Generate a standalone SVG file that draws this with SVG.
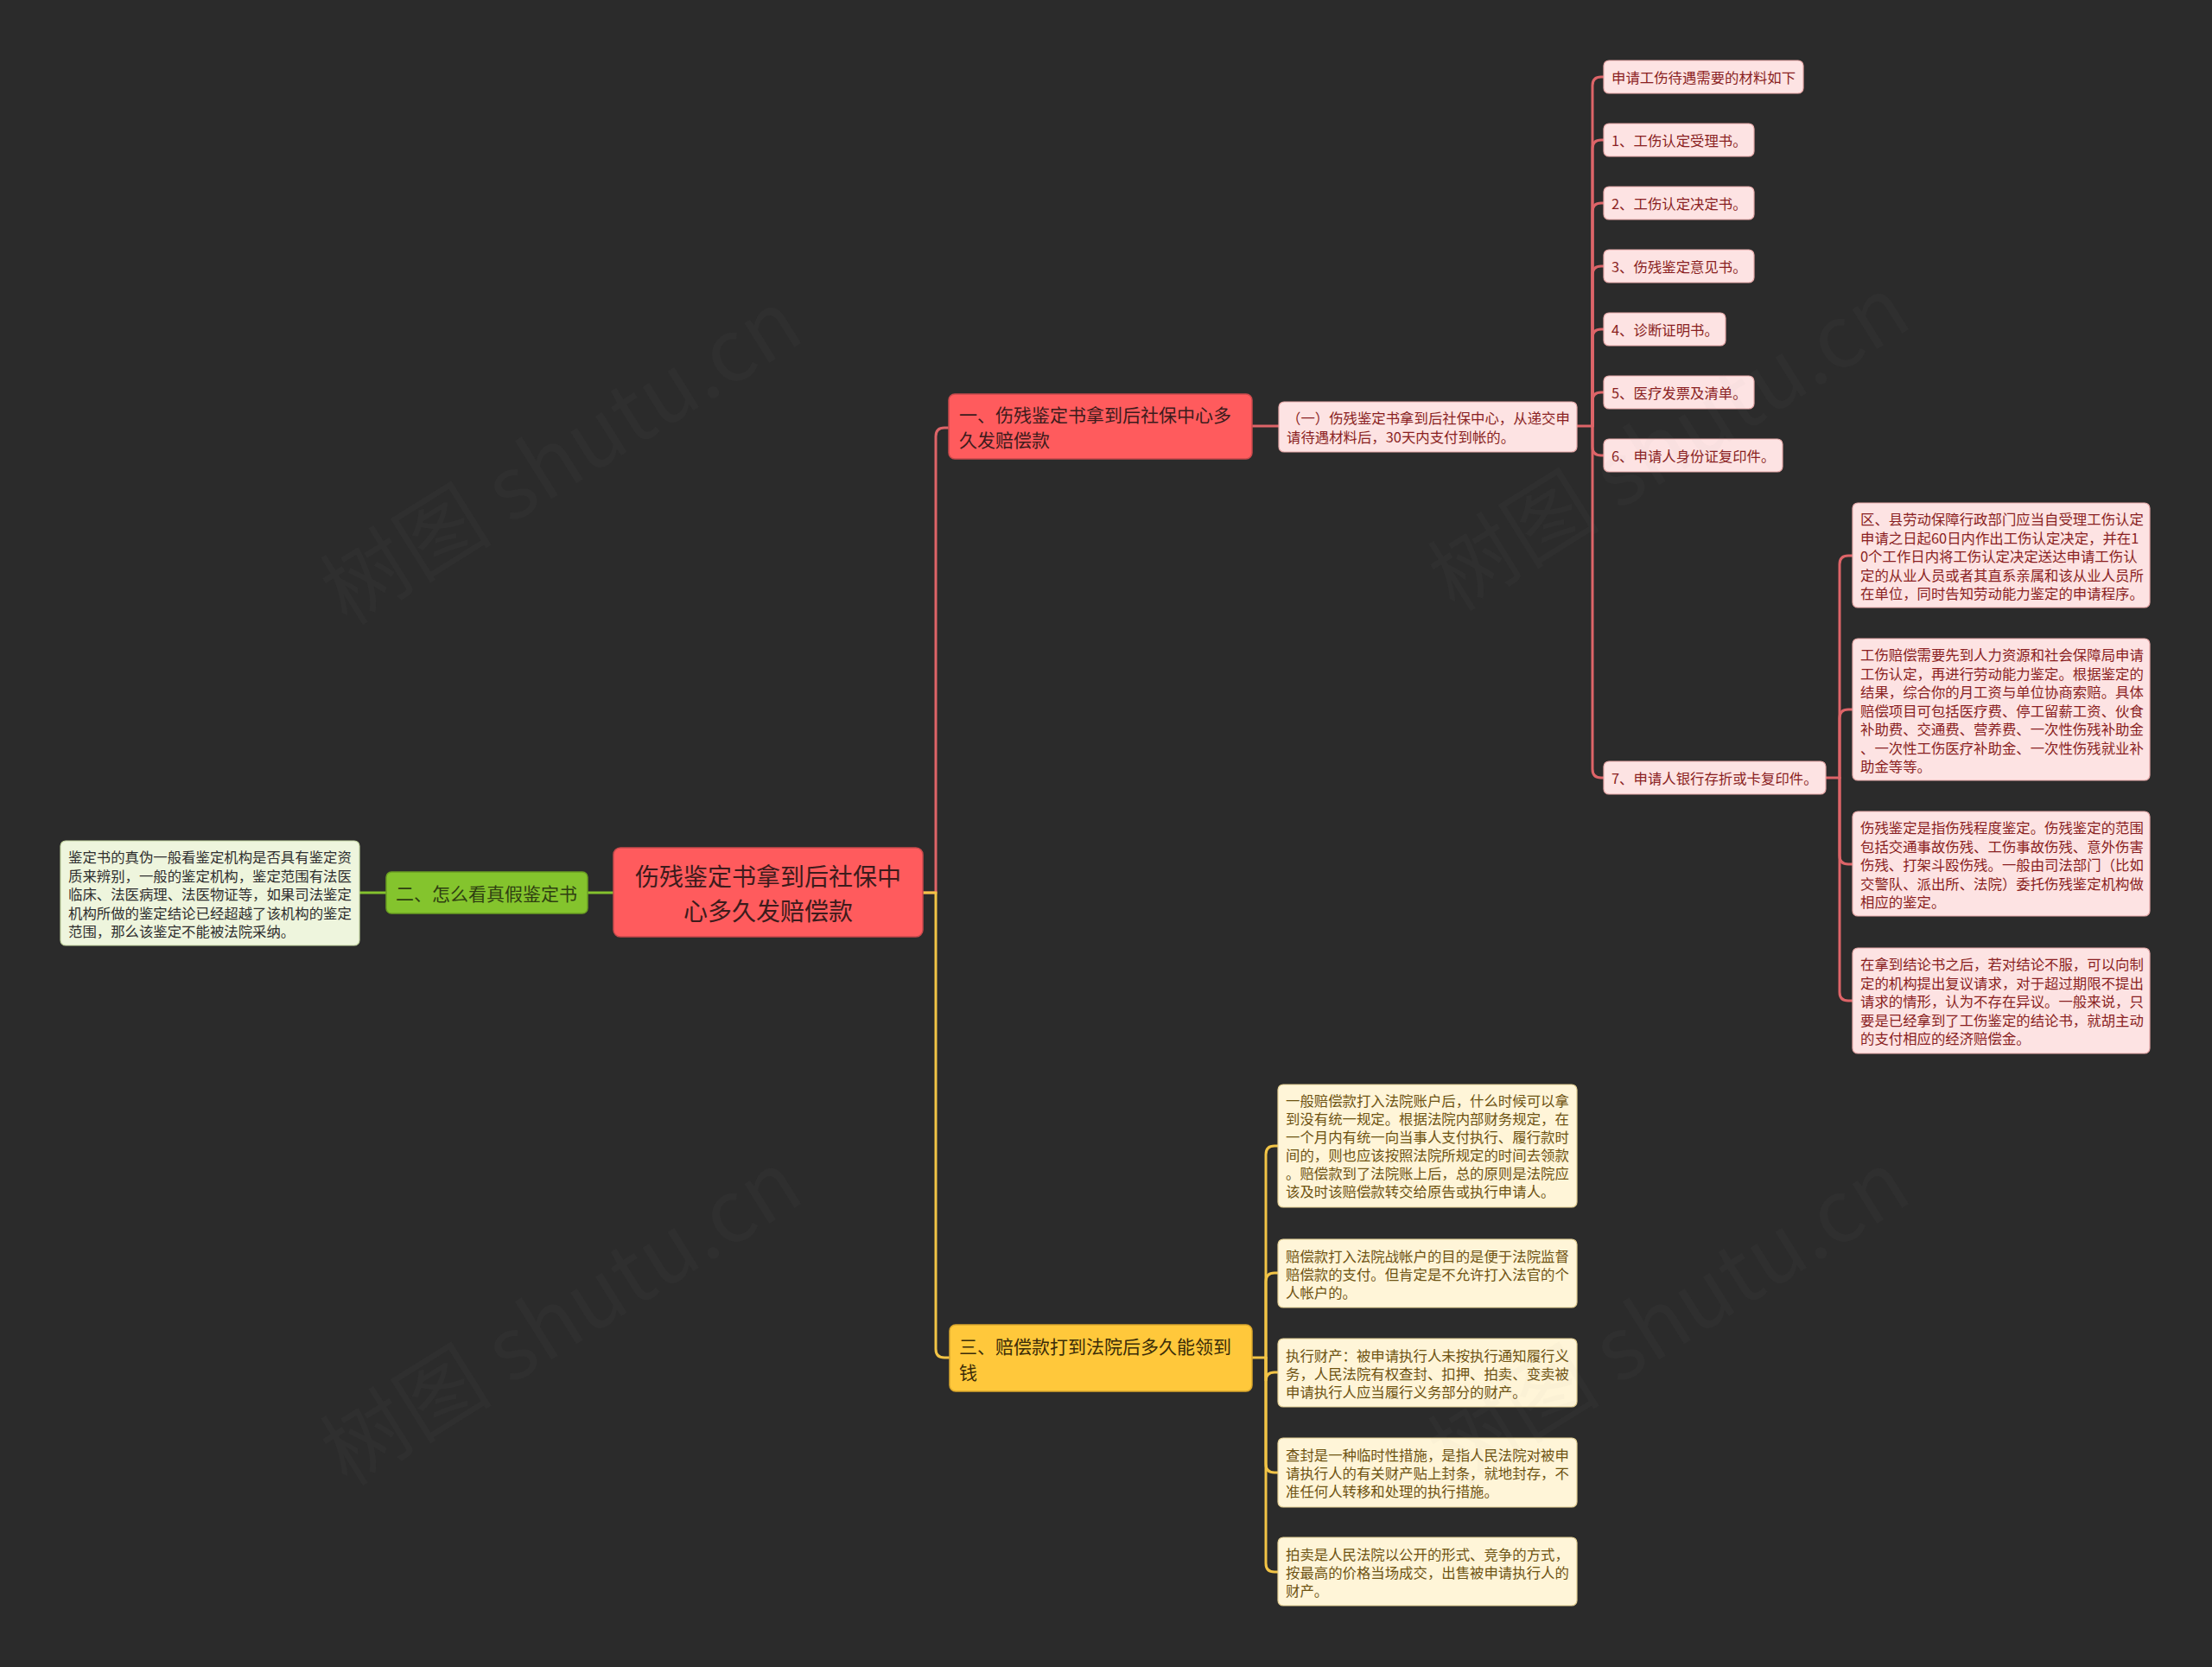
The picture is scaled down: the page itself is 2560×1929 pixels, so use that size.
<svg xmlns="http://www.w3.org/2000/svg" width="2560" height="1929" viewBox="0 0 2560 1929">
<style>
text{font-family:"Noto Sans CJK SC","Noto Sans",sans-serif;dominant-baseline:central}
.lr{fill:none;stroke:#dd6468;stroke-width:3;stroke-linecap:round}
.ly{fill:none;stroke:#f2c446;stroke-width:3;stroke-linecap:round}
.lg{fill:none;stroke:#84c22e;stroke-width:3}
.nred{fill:#ff5b5d;stroke:#c94a4c;stroke-width:1.5}
.nyel{fill:#ffc83b;stroke:#d9a62c;stroke-width:1.5}
.ngrn{fill:#84c42d;stroke:#6a9e22;stroke-width:1.5}
.lpink{fill:#fde3e3;stroke:#e7a9a9;stroke-width:1.2}
.lcream{fill:#fff5d8;stroke:#e3cf93;stroke-width:1.2}
.llime{fill:#eef5dd;stroke:#c5d6a3;stroke-width:1.2}
.tc{font-size:28px;fill:#3d1b1c;text-anchor:middle}
.tb{font-size:21px;fill:#3d1b1c}
.tby{font-size:21px;fill:#3a2c08}
.tbg{font-size:21px;fill:#2f3f11}
.tp{font-size:16.4px;fill:#8a1f22}
.ty{font-size:16.4px;fill:#6e5312}
.tg{font-size:16.4px;fill:#2f2f2f}
.wm{font-size:100px;fill:#9a9a9a;fill-opacity:0.04;text-anchor:middle;font-family:"Noto Sans CJK SC",sans-serif}
</style>
<rect x="0" y="0" width="2560" height="1929" fill="#2b2b2b"/>

<g id="connectors">
  <path class="lr" d="M1068 1033 H1083 V505 Q1083 495 1093 495 H1098"/>
  <path class="ly" d="M1068 1033 H1083 V1561 Q1083 1571 1093 1571 H1099"/>
  <path class="lg" d="M710 1033 H680"/>
  <path class="lg" d="M447 1033 H416"/>
  <path class="lr" d="M1449 493 H1480"/>
  <path class="lr" d="M1825 493 H1843"/>
  <path class="lr" d="M1843 493 V99 Q1843 89 1853 89 H1856"/>
  <path class="lr" d="M1843 493 V172 Q1843 162 1853 162 H1856"/>
  <path class="lr" d="M1843 493 V245 Q1843 235 1853 235 H1856"/>
  <path class="lr" d="M1843 493 V318 Q1843 308 1853 308 H1856"/>
  <path class="lr" d="M1843 493 V391 Q1843 381 1853 381 H1856"/>
  <path class="lr" d="M1843 493 V464 Q1843 454 1853 454 H1856"/>
  <path class="lr" d="M1843 493 V517 Q1843 527 1853 527 H1856"/>
  <path class="lr" d="M1843 493 V890 Q1843 900 1853 900 H1856"/>
  <path class="lr" d="M2113 900 H2129"/>
  <path class="lr" d="M2129 900 V653 Q2129 643 2139 643 H2144"/>
  <path class="lr" d="M2129 900 V831 Q2129 821 2139 821 H2144"/>
  <path class="lr" d="M2129 900 V990 Q2129 1000 2139 1000 H2144"/>
  <path class="lr" d="M2129 900 V1148 Q2129 1158 2139 1158 H2144"/>
  <path class="ly" d="M1449 1571 H1465"/>
  <path class="ly" d="M1465 1571 V1336 Q1465 1326 1475 1326 H1479"/>
  <path class="ly" d="M1465 1571 V1483 Q1465 1473 1475 1473 H1479"/>
  <path class="ly" d="M1465 1571 V1598 Q1465 1588 1475 1588 H1479"/>
  <path class="ly" d="M1465 1571 V1694 Q1465 1704 1475 1704 H1479"/>
  <path class="ly" d="M1465 1571 V1809 Q1465 1819 1475 1819 H1479"/>
</g>

<g id="root">
  <rect class="nred" x="710" y="981" width="358" height="103" rx="8"/>
  <text class="tc" x="889" y="1013">伤残鉴定书拿到后社保中</text>
  <text class="tc" x="889" y="1053">心多久发赔偿款</text>
</g>

<g id="branch1">
  <rect class="nred" x="1098" y="456" width="351" height="75" rx="7"/>
  <text class="tb" x="1110" y="479">一、伤残鉴定书拿到后社保中心多</text>
  <text class="tb" x="1110" y="508">久发赔偿款</text>
</g>

<g id="sub1">
  <rect class="lpink" x="1480" y="465" width="345" height="58" rx="6"/>
  <text class="tp" x="1489" y="483">（一）伤残鉴定书拿到后社保中心，从递交申</text>
  <text class="tp" x="1489" y="505">请待遇材料后，30天内支付到帐的。</text>
</g>

<g id="leaf0"><rect class="lpink" x="1856" y="70" width="231" height="38" rx="6"/><text class="tp" x="1865" y="89">申请工伤待遇需要的材料如下</text></g>
<g id="leaf1"><rect class="lpink" x="1856" y="143" width="174" height="38" rx="6"/><text class="tp" x="1865" y="162">1、工伤认定受理书。</text></g>
<g id="leaf2"><rect class="lpink" x="1856" y="216" width="174" height="38" rx="6"/><text class="tp" x="1865" y="235">2、工伤认定决定书。</text></g>
<g id="leaf3"><rect class="lpink" x="1856" y="289" width="174" height="38" rx="6"/><text class="tp" x="1865" y="308">3、伤残鉴定意见书。</text></g>
<g id="leaf4"><rect class="lpink" x="1856" y="362" width="141" height="38" rx="6"/><text class="tp" x="1865" y="381">4、诊断证明书。</text></g>
<g id="leaf5"><rect class="lpink" x="1856" y="435" width="174" height="38" rx="6"/><text class="tp" x="1865" y="454">5、医疗发票及清单。</text></g>
<g id="leaf6"><rect class="lpink" x="1856" y="508" width="207" height="38" rx="6"/><text class="tp" x="1865" y="527">6、申请人身份证复印件。</text></g>
<g id="leaf7"><rect class="lpink" x="1856" y="881" width="257" height="38" rx="6"/><text class="tp" x="1865" y="900">7、申请人银行存折或卡复印件。</text></g>

<g id="detail1">
  <rect class="lpink" x="2144" y="582" width="344" height="121" rx="6"/>
  <text class="tp" x="2153" y="600">区、县劳动保障行政部门应当自受理工伤认定</text>
  <text class="tp" x="2153" y="621.5">申请之日起60日内作出工伤认定决定，并在1</text>
  <text class="tp" x="2153" y="643">0个工作日内将工伤认定决定送达申请工伤认</text>
  <text class="tp" x="2153" y="664.5">定的从业人员或者其直系亲属和该从业人员所</text>
  <text class="tp" x="2153" y="686">在单位，同时告知劳动能力鉴定的申请程序。</text>
</g>
<g id="detail2">
  <rect class="lpink" x="2144" y="739" width="344" height="164" rx="6"/>
  <text class="tp" x="2153" y="757">工伤赔偿需要先到人力资源和社会保障局申请</text>
  <text class="tp" x="2153" y="778.5">工伤认定，再进行劳动能力鉴定。根据鉴定的</text>
  <text class="tp" x="2153" y="800">结果，综合你的月工资与单位协商索赔。具体</text>
  <text class="tp" x="2153" y="821.5">赔偿项目可包括医疗费、停工留薪工资、伙食</text>
  <text class="tp" x="2153" y="843">补助费、交通费、营养费、一次性伤残补助金</text>
  <text class="tp" x="2153" y="864.5">、一次性工伤医疗补助金、一次性伤残就业补</text>
  <text class="tp" x="2153" y="886">助金等等。</text>
</g>
<g id="detail3">
  <rect class="lpink" x="2144" y="939" width="344" height="121" rx="6"/>
  <text class="tp" x="2153" y="957">伤残鉴定是指伤残程度鉴定。伤残鉴定的范围</text>
  <text class="tp" x="2153" y="978.5">包括交通事故伤残、工伤事故伤残、意外伤害</text>
  <text class="tp" x="2153" y="1000">伤残、打架斗殴伤残。一般由司法部门（比如</text>
  <text class="tp" x="2153" y="1021.5">交警队、派出所、法院）委托伤残鉴定机构做</text>
  <text class="tp" x="2153" y="1043">相应的鉴定。</text>
</g>
<g id="detail4">
  <rect class="lpink" x="2144" y="1097" width="344" height="122" rx="6"/>
  <text class="tp" x="2153" y="1115">在拿到结论书之后，若对结论不服，可以向制</text>
  <text class="tp" x="2153" y="1136.5">定的机构提出复议请求，对于超过期限不提出</text>
  <text class="tp" x="2153" y="1158">请求的情形，认为不存在异议。一般来说，只</text>
  <text class="tp" x="2153" y="1179.5">要是已经拿到了工伤鉴定的结论书，就胡主动</text>
  <text class="tp" x="2153" y="1201">的支付相应的经济赔偿金。</text>
</g>

<g id="branch2">
  <rect class="ngrn" x="447" y="1009" width="233" height="48" rx="6"/>
  <text class="tbg" x="458" y="1033">二、怎么看真假鉴定书</text>
</g>
<g id="leafg">
  <rect class="llime" x="70" y="973" width="346" height="121" rx="6"/>
  <text class="tg" x="79" y="991">鉴定书的真伪一般看鉴定机构是否具有鉴定资</text>
  <text class="tg" x="79" y="1012.5">质来辨别，一般的鉴定机构，鉴定范围有法医</text>
  <text class="tg" x="79" y="1034">临床、法医病理、法医物证等，如果司法鉴定</text>
  <text class="tg" x="79" y="1055.5">机构所做的鉴定结论已经超越了该机构的鉴定</text>
  <text class="tg" x="79" y="1077">范围，那么该鉴定不能被法院采纳。</text>
</g>

<g id="branch3">
  <rect class="nyel" x="1099" y="1533" width="350" height="77" rx="7"/>
  <text class="tby" x="1110" y="1557">三、赔偿款打到法院后多久能领到</text>
  <text class="tby" x="1110" y="1587">钱</text>
</g>
<g id="y1">
  <rect class="lcream" x="1479" y="1255" width="346" height="142" rx="6"/>
  <text class="ty" x="1488" y="1273">一般赔偿款打入法院账户后，什么时候可以拿</text>
  <text class="ty" x="1488" y="1294">到没有统一规定。根据法院内部财务规定，在</text>
  <text class="ty" x="1488" y="1315">一个月内有统一向当事人支付执行、履行款时</text>
  <text class="ty" x="1488" y="1336">间的，则也应该按照法院所规定的时间去领款</text>
  <text class="ty" x="1488" y="1357">。赔偿款到了法院账上后，总的原则是法院应</text>
  <text class="ty" x="1488" y="1378">该及时该赔偿款转交给原告或执行申请人。</text>
</g>
<g id="y2">
  <rect class="lcream" x="1479" y="1434" width="346" height="79" rx="6"/>
  <text class="ty" x="1488" y="1452.5">赔偿款打入法院战帐户的目的是便于法院监督</text>
  <text class="ty" x="1488" y="1473.5">赔偿款的支付。但肯定是不允许打入法官的个</text>
  <text class="ty" x="1488" y="1494.5">人帐户的。</text>
</g>
<g id="y3">
  <rect class="lcream" x="1479" y="1549" width="346" height="79" rx="6"/>
  <text class="ty" x="1488" y="1567.5">执行财产：被申请执行人未按执行通知履行义</text>
  <text class="ty" x="1488" y="1588.5">务，人民法院有权查封、扣押、拍卖、变卖被</text>
  <text class="ty" x="1488" y="1609.5">申请执行人应当履行义务部分的财产。</text>
</g>
<g id="y4">
  <rect class="lcream" x="1479" y="1664" width="346" height="80" rx="6"/>
  <text class="ty" x="1488" y="1683">查封是一种临时性措施，是指人民法院对被申</text>
  <text class="ty" x="1488" y="1704">请执行人的有关财产贴上封条，就地封存，不</text>
  <text class="ty" x="1488" y="1725">准任何人转移和处理的执行措施。</text>
</g>
<g id="y5">
  <rect class="lcream" x="1479" y="1779" width="346" height="79" rx="6"/>
  <text class="ty" x="1488" y="1797.5">拍卖是人民法院以公开的形式、竞争的方式，</text>
  <text class="ty" x="1488" y="1818.5">按最高的价格当场成交，出售被申请执行人的</text>
  <text class="ty" x="1488" y="1839.5">财产。</text>
</g>

<g id="watermarks">
  <text class="wm" transform="translate(645 522) rotate(-32)">树图 shutu.cn</text>
  <text class="wm" transform="translate(1927 506) rotate(-32)">树图 shutu.cn</text>
  <text class="wm" transform="translate(645 1518) rotate(-32)">树图 shutu.cn</text>
  <text class="wm" transform="translate(1927 1518) rotate(-32)">树图 shutu.cn</text>
</g>
</svg>
